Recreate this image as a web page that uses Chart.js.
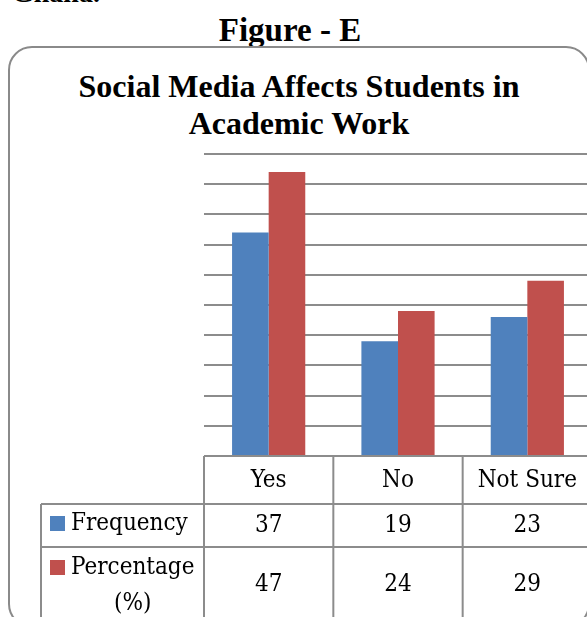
<!DOCTYPE html>
<html>
<head>
<meta charset="utf-8">
<script src="https://cdn.jsdelivr.net/npm/chart.js@4.4.1/dist/chart.umd.min.js"></script>
<style>
  html, body { margin: 0; padding: 0; background: #fff; overflow: hidden; width: 587px; height: 617px; }
  .cut { position: absolute; left: 12px; top: -23px; font: bold 28px "Liberation Serif", serif; color: #000; }
  .fig { position: absolute; left: 0; width: 580px; top: 12px; text-align: center; font: bold 33px "Liberation Serif", serif; color: #000; }
  .frame { position: absolute; left: 8px; top: 46px; width: 578px; height: 578px; border: 2.5px solid #8a8a8a; border-radius: 24px; }
  .title { position: absolute; left: 0; width: 598px; top: 68px; text-align: center; font: bold 32px/37px "Liberation Serif", serif; color: #000; }
  .wrap { position: absolute; left: 0; top: 0; width: 600px; height: 617px; }
</style>
</head>
<body>
<div class="cut">Ghana.</div>
<div class="fig">Figure - E</div>
<div class="frame"></div>
<div class="title">Social Media Affects Students in<br>Academic Work</div>
<div class="wrap"><canvas id="chart"></canvas></div>
<script>
const categories = ["Yes", "No", "Not Sure"];
const frequency = [37, 19, 23];
const percentage = [47, 24, 29];
const seriesNames = ["Frequency", "Percentage\n(%)"];
const yMax = 50;
const yStep = 5;

const BLUE = "#4f81bd";
const RED = "#c0504d";
const LINE = "#8c8c8c";
const TABLE_FONT = '24px "DejaVu Serif Condensed", "DejaVu Serif", serif';

// data table under the plot, columns taken from the x scale
const dataTable = {
  id: "dataTable",
  afterDraw(chart) {
    const { ctx, chartArea } = chart;
    const x = chart.scales.x;
    const half = (x.getPixelForValue(1) - x.getPixelForValue(0)) / 2;
    const left = x.getPixelForValue(0) - half;
    const right = x.getPixelForValue(categories.length - 1) + half;
    const headTop = chartArea.bottom;
    const row1 = headTop + 48;
    const row2 = row1 + 43;
    const bottom = chart.height + 10;
    const labelLeft = 41;

    ctx.save();
    ctx.strokeStyle = LINE;
    ctx.lineWidth = 2;
    ctx.beginPath();
    // horizontal rules
    ctx.moveTo(left, headTop); ctx.lineTo(right, headTop);
    ctx.moveTo(labelLeft, row1); ctx.lineTo(right, row1);
    ctx.moveTo(labelLeft, row2); ctx.lineTo(right, row2);
    // vertical rules
    ctx.moveTo(labelLeft, row1); ctx.lineTo(labelLeft, bottom);
    for (let i = 0; i <= categories.length; i++) {
      const px = left + i * half * 2;
      ctx.moveTo(px, headTop); ctx.lineTo(px, bottom);
    }
    ctx.stroke();

    ctx.fillStyle = "#000";
    ctx.font = TABLE_FONT;
    ctx.textAlign = "center";
    ctx.textBaseline = "middle";
    categories.forEach((c, i) => {
      const cx = x.getPixelForValue(i);
      ctx.fillText(c, cx, headTop + 25);
      ctx.fillText(String(frequency[i]), cx, row1 + 22);
      ctx.fillText(String(percentage[i]), cx, row2 + 38);
    });

    // row headers with legend keys
    const rows = [
      { top: row1 + 6, color: BLUE, lines: seriesNames[0].split("\n") },
      { top: row2 + 7, color: RED, lines: seriesNames[1].split("\n") },
    ];
    rows.forEach((r) => {
      ctx.fillStyle = r.color;
      ctx.fillRect(50, r.top + 6, 15, 15);
      ctx.fillStyle = "#000";
      ctx.textAlign = "left";
      ctx.fillText(r.lines[0], 71, r.top + 14);
      if (r.lines[1]) {
        const w = ctx.measureText(r.lines[0]).width;
        ctx.textAlign = "center";
        ctx.fillText(r.lines[1], 71 + w / 2, r.top + 50);
      }
    });
    ctx.restore();
  },
};

new Chart(document.getElementById("chart"), {
  type: "bar",
  data: {
    labels: categories,
    datasets: [
      { label: "Frequency", data: frequency, backgroundColor: BLUE, borderWidth: 0 },
      { label: "Percentage (%)", data: percentage, backgroundColor: RED, borderWidth: 0 },
    ],
  },
  options: {
    responsive: true,
    maintainAspectRatio: false,
    animation: false,
    layout: { padding: { left: 204, right: 8, top: 154, bottom: 161 } },
    datasets: { bar: { categoryPercentage: 0.566, barPercentage: 1 } },
    plugins: {
      legend: { display: false },
      title: { display: false },
      tooltip: { enabled: false },
    },
    scales: {
      x: { display: false },
      y: {
        min: 0,
        max: yMax,
        ticks: { display: false, stepSize: yStep },
        grid: { color: LINE, lineWidth: 2, drawTicks: false },
        border: { display: false },
      },
    },
  },
  plugins: [dataTable],
});
</script>
</body>
</html>
